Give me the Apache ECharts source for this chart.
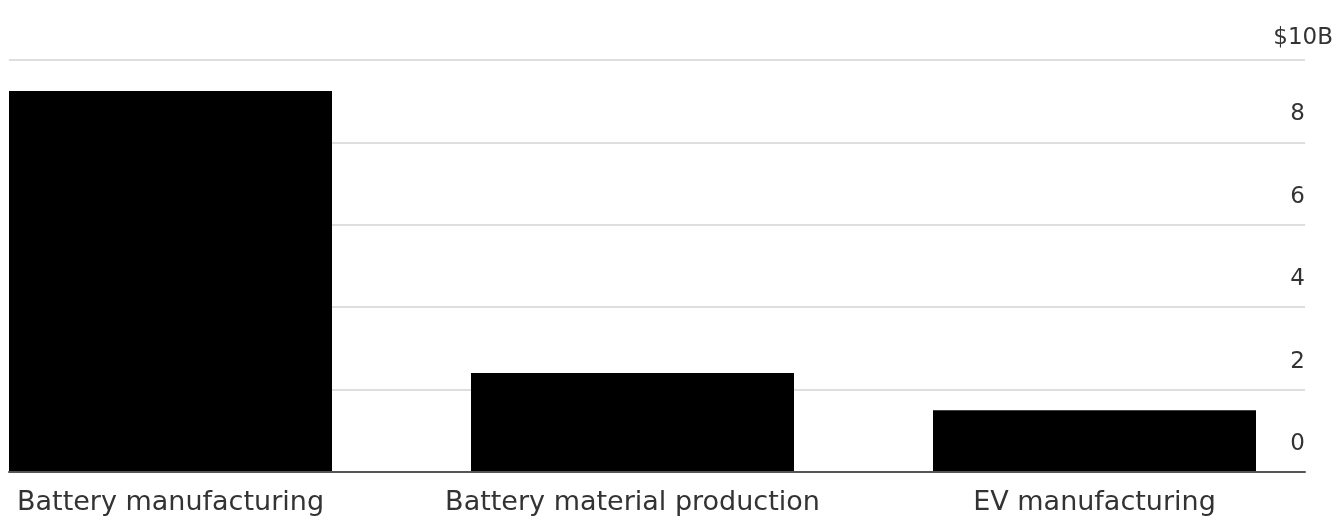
<!DOCTYPE html>
<html>
<head>
<meta charset="utf-8">
<script src="https://cdn.jsdelivr.net/npm/echarts@6/dist/echarts.min.js"></script>
<style>
  html, body { margin: 0; padding: 0; background: #fff; }
  #chart { width: 1338px; height: 516px; }
</style>
</head>
<body>
<div id="chart"></div>
<script>
// Investment by segment, in billions of US dollars
const categories = ['Battery manufacturing', 'Battery material production', 'EV manufacturing'];
const values = [9.25, 2.4, 1.5];
const yTickValues = [0, 2, 4, 6, 8, 10];
const unitLabel = '$10B';

const FONT = 'DejaVu Sans';
const TEXT = '#333';
const yMin = yTickValues[0];
const yMax = yTickValues[yTickValues.length - 1];
const yStep = yTickValues[1] - yTickValues[0];

const chart = echarts.init(document.getElementById('chart'), null, { renderer: 'canvas' });

chart.setOption({
  animation: false,
  backgroundColor: '#fff',
  title: {
    text: unitLabel,
    right: 5,
    top: 27,
    padding: 0,
    textStyle: { fontFamily: FONT, fontSize: 23, fontWeight: 'normal', color: TEXT }
  },
  grid: [
    // gridlines + value labels
    { left: 9, right: 33, top: 60, bottom: 44, outerBoundsMode: 'none' },
    // bar bands (wider than the canvas so the bars line up flush at the left)
    { left: -60.5, width: 1386, top: 60, bottom: 44, outerBoundsMode: 'none' }
  ],
  xAxis: [
    {
      gridIndex: 0,
      type: 'category',
      data: categories,
      axisLine: { show: true, lineStyle: { color: '#555', width: 2 } },
      axisTick: { show: false },
      axisLabel: { show: false },
      z: 5
    },
    {
      gridIndex: 1,
      type: 'category',
      data: categories,
      axisLine: { show: false },
      axisTick: { show: false },
      axisLabel: {
        fontFamily: FONT,
        fontSize: 27,
        color: TEXT,
        margin: 17,
        interval: 0
      }
    }
  ],
  yAxis: [
    {
      gridIndex: 0,
      type: 'value',
      position: 'right',
      min: yMin,
      max: yMax,
      interval: yStep,
      axisLine: { show: false },
      axisTick: { show: false },
      splitLine: { show: true, lineStyle: { color: '#dedede', width: 2 } },
      axisLabel: {
        inside: true,
        align: 'right',
        verticalAlign: 'bottom',
        margin: 0,
        padding: [0, 0, 16, 0],
        lineHeight: 24,
        fontFamily: FONT,
        fontSize: 23,
        color: TEXT,
        formatter: v => (v === yMax ? '' : String(v))
      }
    },
    {
      gridIndex: 1,
      type: 'value',
      min: yMin,
      max: yMax,
      interval: yStep,
      show: false
    }
  ],
  series: [
    {
      type: 'bar',
      xAxisIndex: 1,
      yAxisIndex: 1,
      data: values,
      barWidth: 323,
      itemStyle: { color: '#000' },
      silent: true,
      z: 3
    }
  ]
});
</script>
</body>
</html>
